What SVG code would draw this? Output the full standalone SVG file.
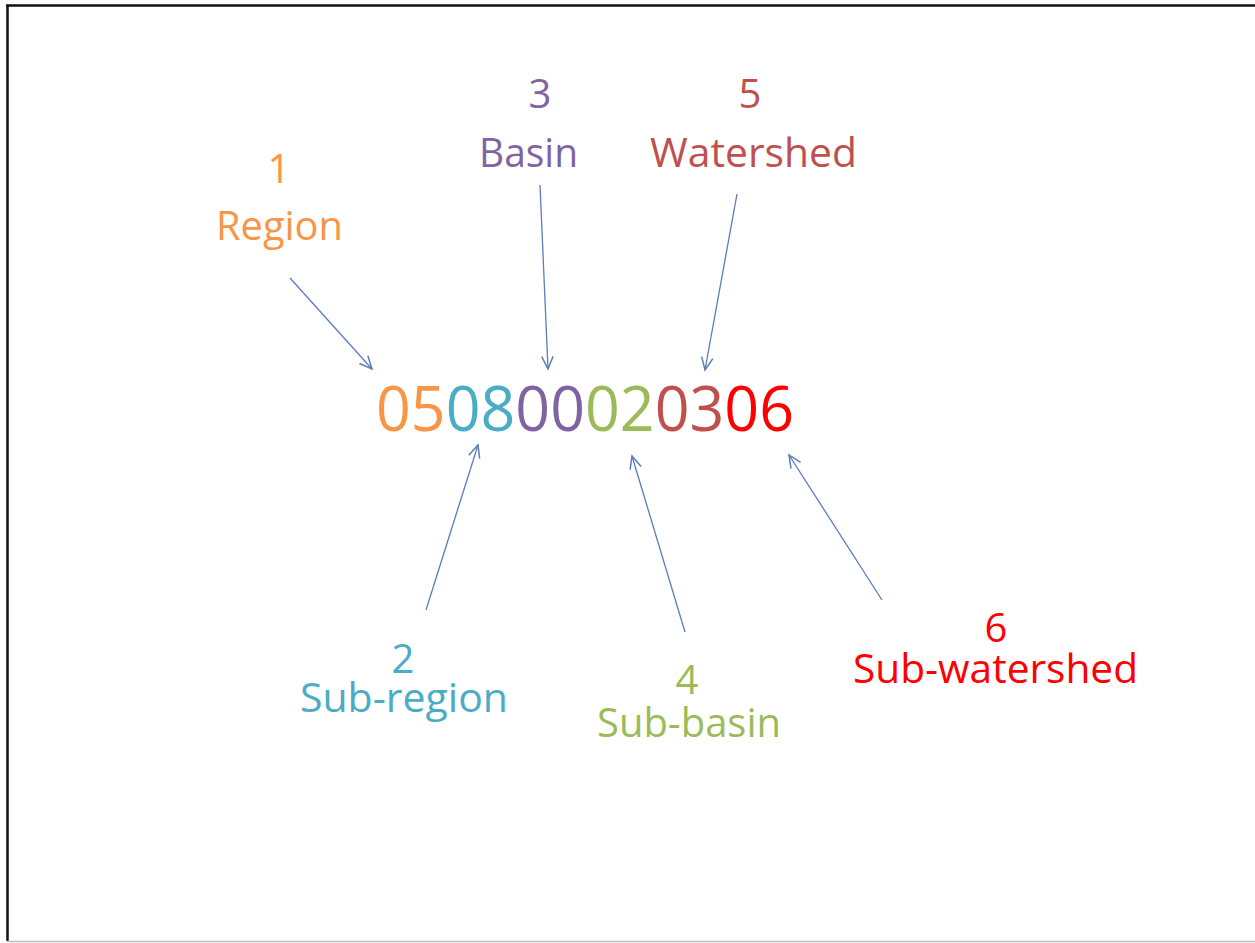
<svg xmlns="http://www.w3.org/2000/svg" width="1255" height="943" viewBox="0 0 1255 943">
  <style>
    .lbl { font-family: "Open Sans", "Noto Sans", sans-serif; font-size: 40px; }
    .mid { text-anchor: middle; }
    .code { font-family: "Open Sans", "Noto Sans", sans-serif; font-size: 63px; }
    .c1 { fill: #F79646; }
    .c2 { fill: #4BACC6; }
    .c3 { fill: #8064A2; }
    .c4 { fill: #9BBB59; }
    .c5 { fill: #C0504D; }
    .c6 { fill: #FF0000; }
    .arrow { stroke: #5B7DB8; stroke-width: 1.3; fill: none; marker-end: url(#head); }
  </style>
  <defs>
    <marker id="head" markerUnits="userSpaceOnUse" markerWidth="16" markerHeight="16" refX="12" refY="6" orient="auto" viewBox="0 0 14 12">
      <path d="M1,1 L12,6 L1,11" fill="none" stroke="#5B7DB8" stroke-width="1.3"/>
    </marker>
  </defs>
  <rect width="1255" height="943" fill="#FFFFFF"/>
  <g id="frame">
    <line x1="6" y1="5.5" x2="1255" y2="5.5" stroke="#111111" stroke-width="2.5"/>
    <line x1="7.5" y1="5" x2="7.5" y2="941" stroke="#111111" stroke-width="2.5"/>
    <line x1="7" y1="941.5" x2="1255" y2="941.5" stroke="#BBBBBB" stroke-width="1.5"/>
  </g>
  <g id="code">
    <text class="code" x="376" y="431" textLength="418" lengthAdjust="spacingAndGlyphs"><tspan class="c1">05</tspan><tspan class="c2">08</tspan><tspan class="c3">00</tspan><tspan class="c4">02</tspan><tspan class="c5">03</tspan><tspan class="c6">06</tspan></text>
  </g>
  <g id="region">
    <text class="lbl mid c1" x="279" y="183">1</text>
    <text class="lbl c1" x="216" y="240" textLength="127" lengthAdjust="spacingAndGlyphs">Region</text>
  </g>
  <g id="basin">
    <text class="lbl mid c3" x="540" y="108">3</text>
    <text class="lbl c3" x="479" y="167" textLength="99" lengthAdjust="spacingAndGlyphs">Basin</text>
  </g>
  <g id="watershed">
    <text class="lbl mid c5" x="750" y="108">5</text>
    <text class="lbl c5" x="650" y="167" textLength="207" lengthAdjust="spacingAndGlyphs">Watershed</text>
  </g>
  <g id="subregion">
    <text class="lbl mid c2" x="403" y="673">2</text>
    <text class="lbl c2" x="300" y="712" textLength="208" lengthAdjust="spacingAndGlyphs">Sub-region</text>
  </g>
  <g id="subbasin">
    <text class="lbl mid c4" x="687" y="694">4</text>
    <text class="lbl c4" x="597" y="737" textLength="184" lengthAdjust="spacingAndGlyphs">Sub-basin</text>
  </g>
  <g id="subwatershed">
    <text class="lbl mid c6" x="996" y="642">6</text>
    <text class="lbl c6" x="853" y="683" textLength="285" lengthAdjust="spacingAndGlyphs">Sub-watershed</text>
  </g>
  <g id="connectors">
    <line class="arrow" x1="290" y1="278" x2="372" y2="369"/>
    <line class="arrow" x1="540" y1="185" x2="548" y2="369"/>
    <line class="arrow" x1="737" y1="194" x2="705" y2="370"/>
    <line class="arrow" x1="426" y1="610" x2="478" y2="445"/>
    <line class="arrow" x1="685" y1="632" x2="632" y2="456"/>
    <line class="arrow" x1="882" y1="600" x2="789" y2="455"/>
  </g>
</svg>
